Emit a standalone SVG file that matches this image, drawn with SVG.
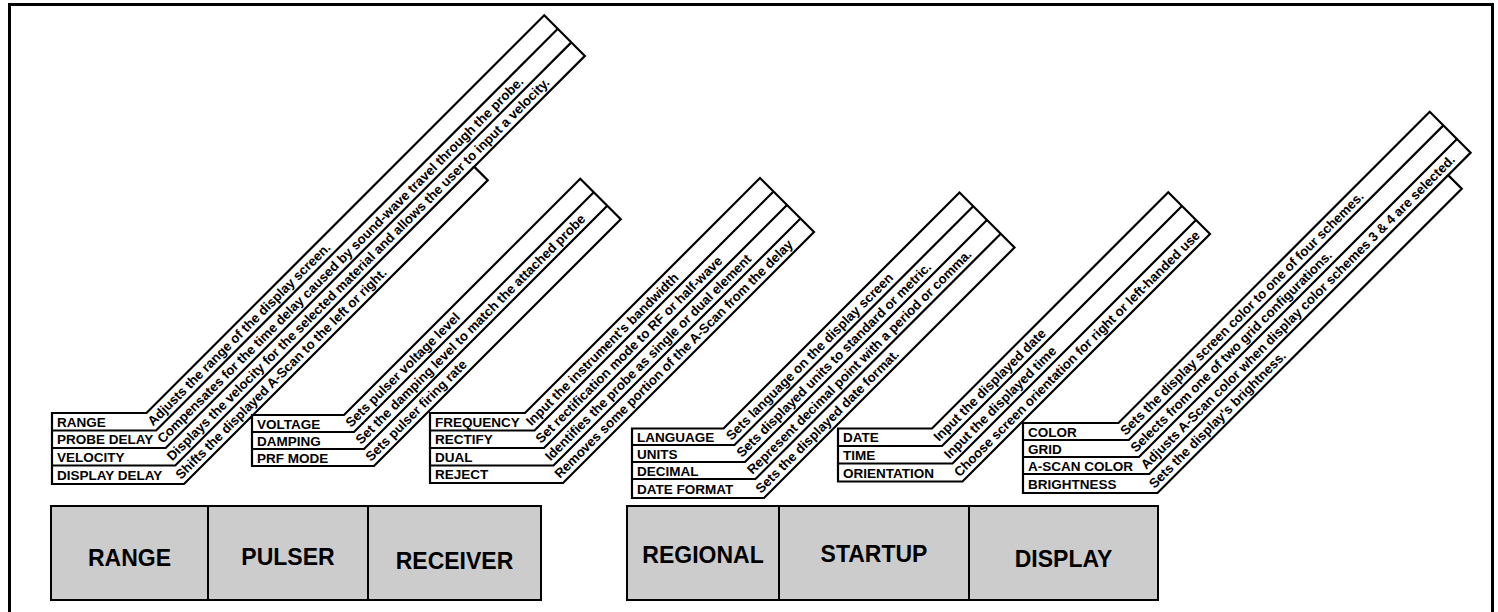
<svg xmlns="http://www.w3.org/2000/svg" width="1498" height="612" viewBox="0 0 1498 612">
<style>
.ln{fill:none;stroke:#000;stroke-width:2.2;stroke-linejoin:miter}
.lb{font-family:"Liberation Sans",Arial,Helvetica,sans-serif;font-weight:bold;font-size:13.5px;fill:#000}
.d{font-family:"Liberation Sans",Arial,Helvetica,sans-serif;font-weight:bold;font-size:13.3px;fill:#000}
.bx{fill:#cccccc;stroke:#000;stroke-width:2}
.bt{font-family:"Liberation Sans",Arial,Helvetica,sans-serif;font-weight:bold;font-size:23px;text-anchor:middle;fill:#000}
</style>
<rect width="1498" height="612" fill="#fff"/>
<path d="M9.5,612 V4.5 H1492.5 V612" fill="none" stroke="#000" stroke-width="3"/>

<g id="range-menu">
<path class="ln" d="M52,413 H146.5 L544.25,15.25 L584.9,55.9 L474.15,166.65 L487.75,180.25 L184,484 H52 Z"/>
<path class="ln" d="M52,430.5 H156.1 L557.8,28.8 M52,448 H165.7 L571.35,42.35 M52,465.5 H175.3 L474.15,166.65"/>
<text class="lb" x="57" y="426.75">RANGE</text>
<text class="lb" x="57" y="444.25">PROBE DELAY</text>
<text class="lb" x="57" y="461.75">VELOCITY</text>
<text class="lb" x="57" y="479.75">DISPLAY DELAY</text>
<text class="d" transform="translate(153.1,426.5) rotate(-45)">Adjusts the range of the display screen.</text>
<text class="d" transform="translate(162.7,444) rotate(-45)">Compensates for the time delay caused by sound-wave travel through the probe.</text>
<text class="d" transform="translate(172.3,461.5) rotate(-45)">Displays the velocity for the selected material and allows the user to input a velocity.</text>
<text class="d" transform="translate(181,480) rotate(-45)">Shifts the displayed A-Scan to the left or right.</text>
</g>

<g id="pulser-menu">
<path class="ln" d="M252,415 H344 L580.25,178.75 L620.75,219.25 L374,466 H252 Z"/>
<path class="ln" d="M252,432 H354 L593.75,192.25 M252,449 H364 L607.25,205.75"/>
<text class="lb" x="257" y="428.5">VOLTAGE</text>
<text class="lb" x="257" y="445.5">DAMPING</text>
<text class="lb" x="257" y="462.5">PRF MODE</text>
<text class="d" transform="translate(351,428) rotate(-45)">Sets pulser voltage level</text>
<text class="d" transform="translate(361,445) rotate(-45)">Set the damping level to match the attached probe</text>
<text class="d" transform="translate(371,462) rotate(-45)">Sets pulser firing rate</text>
</g>

<g id="receiver-menu">
<path class="ln" d="M430,413 H525 L760,178 L814,232 L563,483 H430 Z"/>
<path class="ln" d="M430,430.5 H534.5 L773.5,191.5 M430,448 H544 L787,205 M430,465.5 H553.5 L800.5,218.5"/>
<text class="lb" x="435" y="426.75">FREQUENCY</text>
<text class="lb" x="435" y="444.25">RECTIFY</text>
<text class="lb" x="435" y="461.75">DUAL</text>
<text class="lb" x="435" y="479.25">REJECT</text>
<text class="d" transform="translate(531.5,426.5) rotate(-45)">Input the instrument's bandwidth</text>
<text class="d" transform="translate(541,444) rotate(-45)">Set rectification mode to RF or half-wave</text>
<text class="d" transform="translate(550.5,461.5) rotate(-45)">Identifies the probe as single or dual element</text>
<text class="d" transform="translate(560,479) rotate(-45)">Removes some portion of the A-Scan from the delay</text>
</g>

<g id="regional-menu">
<path class="ln" d="M632,428.5 H723.5 L959.5,192.5 L1014.5,247.5 L764,498 H632 Z"/>
<path class="ln" d="M632,445 H734.5 L973.25,206.25 M632,462 H745 L987,220 M632,479 H755.5 L1000.75,233.75"/>
<text class="lb" x="637" y="441.75">LANGUAGE</text>
<text class="lb" x="637" y="458.5">UNITS</text>
<text class="lb" x="637" y="475.5">DECIMAL</text>
<text class="lb" x="637" y="493.5">DATE FORMAT</text>
<text class="d" transform="translate(731.5,441) rotate(-45)">Sets language on the display screen</text>
<text class="d" transform="translate(742,458) rotate(-45)">Sets displayed units to standard or metric.</text>
<text class="d" transform="translate(752.5,475) rotate(-45)">Represent decimal point with a period or comma.</text>
<text class="d" transform="translate(761,494) rotate(-45)">Sets the displayed date format.</text>
</g>

<g id="startup-menu">
<path class="ln" d="M838,428.5 H932 L1168.25,192.25 L1210,234 L962.5,481.5 H838 Z"/>
<path class="ln" d="M838,446 H942 L1182,206 M838,463.5 H952.5 L1196,220"/>
<text class="lb" x="843" y="442.25">DATE</text>
<text class="lb" x="843" y="459.75">TIME</text>
<text class="lb" x="843" y="477.5">ORIENTATION</text>
<text class="d" transform="translate(939,442) rotate(-45)">Input the displayed date</text>
<text class="d" transform="translate(949.5,459.5) rotate(-45)">Input the displayed time</text>
<text class="d" transform="translate(959.5,477.5) rotate(-45)">Choose screen orientation for right or left-handed use</text>
</g>

<g id="display-menu">
<path class="ln" d="M1023,423 H1118.5 L1429.75,111.75 L1470.65,152.65 L1448.15,175.15 L1461.75,188.75 L1157.5,493 H1023 Z"/>
<path class="ln" d="M1023,440 H1128.8 L1443.4,125.4 M1023,457 H1139 L1457,139 M1023,474 H1149.3 L1448.15,175.15"/>
<text class="lb" x="1028" y="436.5">COLOR</text>
<text class="lb" x="1028" y="453.5">GRID</text>
<text class="lb" x="1028" y="470.5">A-SCAN COLOR</text>
<text class="lb" x="1028" y="488.5">BRIGHTNESS</text>
<text class="d" transform="translate(1125.8,436) rotate(-45)">Sets the display screen color to one of four schemes.</text>
<text class="d" transform="translate(1136,453) rotate(-45)">Selects from one of two grid configurations.</text>
<text class="d" transform="translate(1146.3,470) rotate(-45)">Adjusts A-Scan color when display color schemes 3 &amp; 4 are selected.</text>
<text class="d" transform="translate(1154.5,489) rotate(-45)">Sets the display's brightness.</text>
</g>

<g id="box-range"><rect class="bx" x="51" y="506" width="157" height="94"/><text class="bt" x="129.5" y="566">RANGE</text></g>
<g id="box-pulser"><rect class="bx" x="208" y="506" width="160" height="94"/><text class="bt" x="288" y="565">PULSER</text></g>
<g id="box-receiver"><rect class="bx" x="368" y="506" width="173" height="94"/><text class="bt" x="454.5" y="569">RECEIVER</text></g>
<g id="box-regional"><rect class="bx" x="627" y="506" width="152" height="94"/><text class="bt" x="703" y="563">REGIONAL</text></g>
<g id="box-startup"><rect class="bx" x="779" y="506" width="190" height="94"/><text class="bt" x="874" y="562">STARTUP</text></g>
<g id="box-display"><rect class="bx" x="969" y="506" width="189" height="94"/><text class="bt" x="1063.5" y="567">DISPLAY</text></g>
</svg>
